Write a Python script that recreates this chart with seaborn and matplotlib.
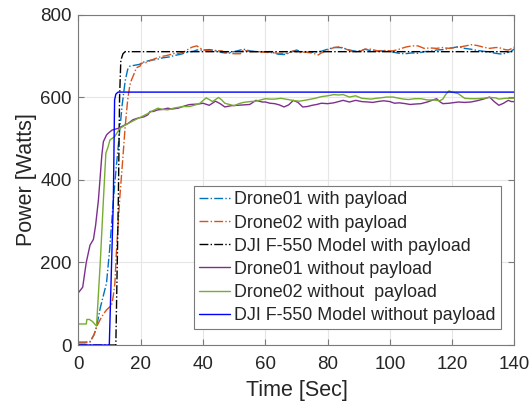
import matplotlib
matplotlib.use("Agg")
import matplotlib.pyplot as plt
import seaborn as sns
import pandas as pd

# ---------------- data ----------------
t_d01_wp = [0, 2, 3.7, 5, 5.8, 7, 8, 9, 10, 11.2, 12.0, 13.0, 14.0, 15.0, 15.8, 16.5, 18, 19.5, 21, 23, 25, 27, 29, 31, 33, 35, 37,
            38, 40, 42, 44, 46, 47, 49, 51, 53, 55, 57, 59, 62, 64, 66, 67, 68, 70, 72, 74, 76, 78, 80, 82, 84, 85, 87, 89,
            91, 92, 94, 96, 98, 100, 101, 103, 105, 107, 109, 111, 113, 115, 117, 119, 122, 124, 126, 128, 130, 132, 134,
            136, 137, 139, 140]
p_d01_wp = [7, 7, 8, 25, 44, 90, 120, 150, 230, 351, 420, 500, 580, 640, 668, 676, 678, 680, 686, 690, 692, 696, 698, 702, 705, 710, 712,
            715, 715, 716, 714, 709, 708, 709, 713, 717, 713, 711, 711, 710, 705, 704, 706, 709, 715, 710, 709, 710, 712, 717, 721, 721, 720, 715, 712,
            714, 717, 713, 712, 713, 712, 710, 707, 706, 708, 707, 711, 712, 715, 716, 719, 723, 719, 717, 714, 712, 710, 707,
            705, 707, 712, 718]

t_d02_wp = [0, 2, 3.7, 5, 5.8, 7, 8, 9, 10, 10.7, 11.2, 11.7, 12.1, 12.7, 13.3, 14.2, 15, 15.8, 16.5, 17, 18, 18.6, 19.8, 20.2, 21.5,
            23, 24.5, 26.5, 28.5, 30.9, 32.4, 34, 35.7, 36.5, 38, 39, 40, 42, 44, 46, 47, 49, 50, 52, 53, 55, 57, 59, 61, 63,
            64, 67, 69, 71, 73, 75, 77, 78, 80, 82, 84, 86, 88, 90, 92, 94, 96, 98, 100, 101, 103, 105, 107, 109, 111, 113,
            115, 117, 119, 121, 123, 125, 126, 128, 130, 132, 134, 135, 137, 138, 139, 140]
p_d02_wp = [5, 5, 7, 25, 44, 62, 75, 85, 92, 99, 120, 150, 214, 290, 360, 448, 530, 594, 630, 642, 660, 672, 676, 683, 684,
            689, 694, 699, 702, 707, 707, 711, 719, 722, 725, 720, 715, 713, 713, 713, 709, 707, 706, 706, 715, 711, 711, 710, 709, 708,
            707, 707, 713, 709, 710, 708, 703, 708, 715, 721, 723, 717, 711, 711, 717, 717, 713, 714, 713, 713, 717, 722, 725, 725, 719, 720,
            719, 721, 719, 721, 723, 726, 728, 726, 722, 719, 721, 721, 716, 715, 718, 722]

t_mod_wp = [0, 12.0, 12.8, 13.2, 13.6, 14.3, 15.0, 140]
p_mod_wp = [0, 0, 351, 600, 690, 706, 711, 711]

t_d01_np = [0, 1.35, 2.5, 3.7, 4.8, 5.5, 6.4, 6.9, 7.5, 8, 9, 9.5, 10.8, 12.7, 14, 15.9, 17.5, 19.1, 21, 22.3, 23, 24, 25.5, 27,
            28.7, 30, 32, 33.5, 35.2, 36, 38.4, 40, 42, 44, 45.5, 47, 49, 51, 53, 55, 57, 59, 60, 61.5, 63, 64.5, 66, 67.5,
            69, 70.5, 72, 73.5, 75, 76.5, 78, 80, 82, 83.5, 85, 87, 89, 91, 93, 94.5, 96, 98, 100, 101.5, 103, 105, 106.5,
            108, 110, 112, 113.5, 115, 116, 117, 119, 122, 124, 126, 128, 130, 132, 133.5, 135, 136.5, 138, 139, 140]
p_d01_np = [127, 140, 200, 242, 256, 290, 351, 400, 460, 493, 509, 513, 521, 525, 530, 537, 546, 550, 553, 558, 566, 566, 570, 571,
            574, 572, 574, 578, 582, 583, 584, 586, 581, 591, 585, 577, 580, 581, 582, 583, 593, 589, 589, 586, 585, 582, 577, 582,
            593, 588, 577, 578, 581, 583, 586, 585, 587, 590, 593, 589, 593, 590, 589, 588, 590, 592, 590, 586, 587, 585, 583,
            584, 585, 589, 593, 597, 590, 585, 586, 589, 588, 589, 592, 596, 601, 590, 581, 586, 593, 590, 590]

t_d02_np = [0, 2.5, 2.7, 3.5, 4.5, 5.8, 7, 8, 8.8, 9.5, 10.1, 11.6, 13.3, 15, 17, 18.5, 20.2, 22, 23.4, 25.5, 27, 28.7, 30.5, 32,
            33.6, 35.7, 38, 39, 41, 42, 43, 45, 46, 47, 48.5, 50, 51.5, 53, 55, 57, 58.5, 60, 61.5, 63, 65, 66.5, 68, 69.5,
            71, 72.5, 74, 76, 78, 80, 82, 83.5, 85, 87, 89, 91, 92.5, 94, 95.5, 97, 99, 101, 103, 104.5, 106, 108, 110, 112,
            114, 116, 117, 118, 119, 120, 122, 124, 126, 128, 130, 132, 134, 135, 137, 139, 140]
p_d02_np = [51, 51, 62, 62, 57, 46, 200, 351, 465, 480, 497, 505, 525, 533, 541, 547, 553, 560, 566, 574, 571, 570, 574, 576,
            578, 578, 583, 586, 599, 595, 590, 600, 594, 586, 583, 580, 585, 588, 590, 591, 594, 597, 596, 596, 598, 596, 594, 592,
            591, 593, 595, 598, 602, 604, 607, 606, 607, 601, 604, 598, 597, 596, 598, 599, 601, 601, 598, 596, 595, 597, 597, 594,
            594, 592, 596, 608, 616, 613, 609, 598, 597, 597, 598, 600, 599, 596, 598, 598, 598]

t_mod_np = [0, 9.9, 11.2, 11.6, 12.0, 12.7, 140]
p_mod_np = [0, 0, 351, 594, 608, 613, 613]

labels = ["Drone01 with payload", "Drone02 with payload", "DJI F-550 Model with payload",
          "Drone01 without payload", "Drone02 without  payload", "DJI F-550 Model without payload"]
x_ticks = [0, 20, 40, 60, 80, 100, 120, 140]
y_ticks = [0, 200, 400, 600, 800]

# ---------------- style ----------------
sns.set_theme(style="white")
plt.rcParams['font.family'] = ['Liberation Sans', 'DejaVu Sans']

fig = plt.figure(figsize=(5.32, 4.04), dpi=100)
ax = fig.add_axes([0.1475, 0.146, 0.8195, 0.817])

series = [
    (t_d01_wp, p_d01_wp, "#0072BD", "-."),
    (t_d02_wp, p_d02_wp, "#D95319", "-."),
    (t_mod_wp, p_mod_wp, "#000000", "-."),
    (t_d01_np, p_d01_np, "#7E2F8E", "-"),
    (t_d02_np, p_d02_np, "#77AC30", "-"),
    (t_mod_np, p_mod_np, "#0000FF", "-"),
]
for (tt, pp, col, ls), lab in zip(series, labels):
    df = pd.DataFrame({"t": tt, "p": pp})
    sns.lineplot(data=df, x="t", y="p", ax=ax, color=col, linestyle=ls,
                 linewidth=1.0, label=lab, estimator=None, sort=False)

ax.set_xlim(0, 140)
ax.set_ylim(0, 800)
ax.set_xticks(x_ticks)
ax.set_yticks(y_ticks)
ax.grid(True, color="#e6e6e6", linewidth=0.8)
ax.set_axisbelow(True)
for s in ax.spines.values():
    s.set_color("#7a7a7a")
    s.set_linewidth(0.8)
    s.set_visible(True)
ax.tick_params(axis="both", direction="in", length=4, width=0.8, color="#7a7a7a",
               labelsize=13.5, labelcolor="#262626", top=True, right=True,
               bottom=True, left=True)
ax.tick_params(axis="x", pad=8)
ax.tick_params(axis="y", pad=5)
ax.set_xlabel("Time [Sec]", fontsize=15.5, color="#262626", labelpad=5)
ax.set_ylabel("Power [Watts]", fontsize=15.5, color="#262626", labelpad=2)

leg = ax.legend(loc="lower right", bbox_to_anchor=(0.969, 0.0476), fontsize=12.9,
                frameon=True, fancybox=False, framealpha=1, edgecolor="#7a7a7a",
                handlelength=1.75, handletextpad=0.2, labelspacing=0.34,
                borderpad=0.3, borderaxespad=0.0)
leg.get_frame().set_linewidth(0.8)

fig.savefig("out.png", dpi=100)
